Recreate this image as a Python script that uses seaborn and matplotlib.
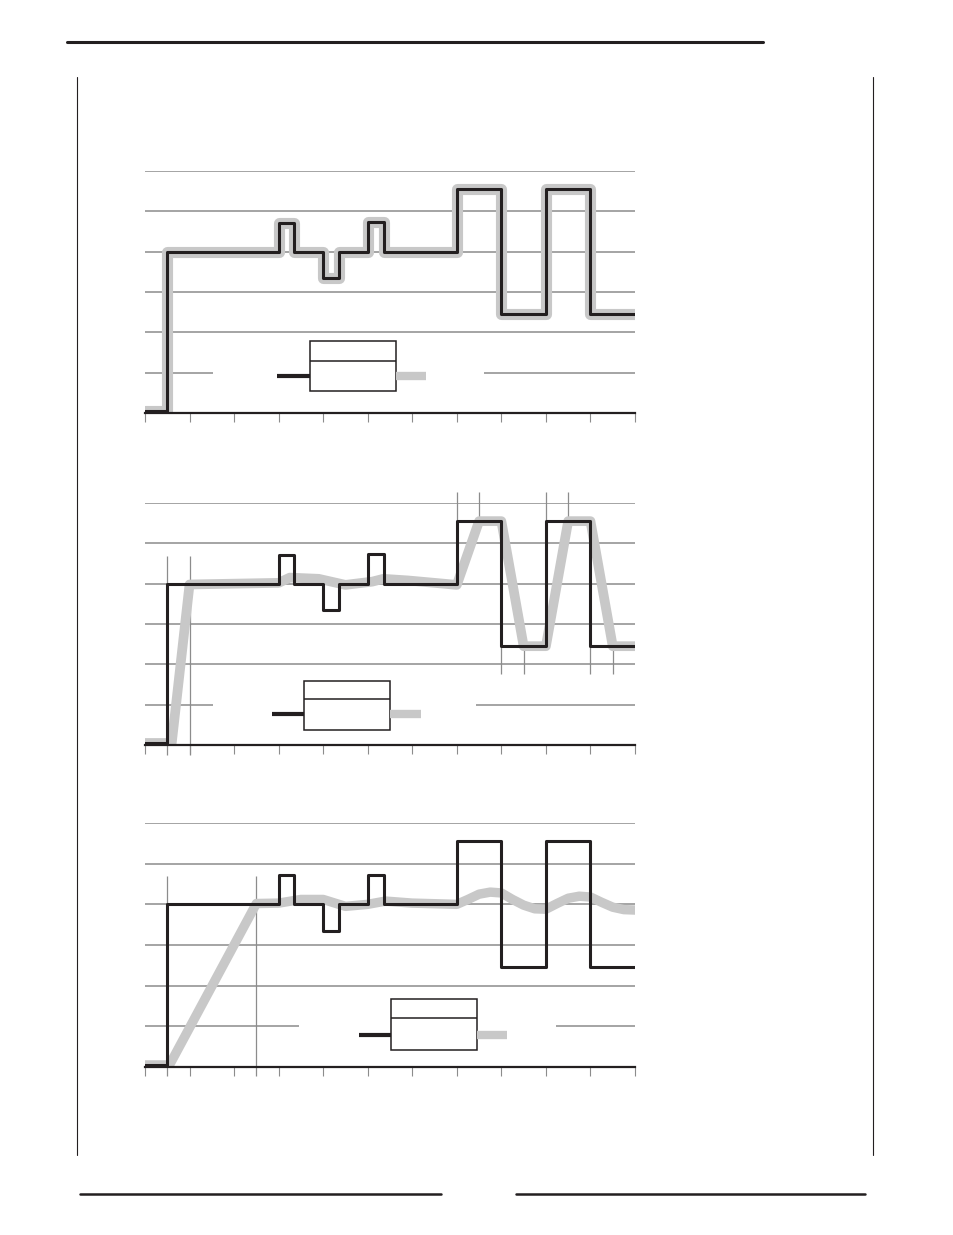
import matplotlib
matplotlib.use("Agg")
import matplotlib.pyplot as plt
from matplotlib.lines import Line2D
from matplotlib.patches import Rectangle
import seaborn as sns

sns.set_style("white")

# setpoint steps (same in all three charts)
step_t = [0, 0.5, 3.0, 3.35, 4.0, 4.35, 5.0, 5.37, 7.0, 8.0, 9.0, 10.0, 11.0]
step_v = [0.05, 4.0, 4.72, 4.0, 3.34, 4.0, 4.73, 4.0, 5.55, 2.45, 5.55, 2.45, 2.45]

# response, chart 2 (fast ramp)
resp2_t = [0, 0.6, 1.0, 3.0, 3.25, 3.9, 4.3, 4.5, 5.1, 5.35, 5.9, 7.0, 7.5, 8.0, 8.5, 9.0, 9.5, 10.0, 10.5, 11.0]
resp2_v = [0.05, 0.05, 3.98, 4.02, 4.15, 4.12, 4.02, 3.97, 4.05, 4.12, 4.08, 3.97,
           5.55, 5.55, 2.45, 2.45, 5.55, 5.55, 2.45, 2.45]

# response, chart 3 (slow ramp, filtered)
resp3_t = [0, 0.55, 2.5, 3.0, 3.5, 4.0, 4.5, 5.0, 5.4, 6.0, 7.0, 7.25, 7.5, 7.75, 8.0, 8.25,
           8.5, 8.75, 9.0, 9.25, 9.5, 9.75, 10.0, 10.25, 10.5, 10.75, 11.0]
resp3_v = [0.05, 0.05, 4.02, 4.03, 4.12, 4.12, 3.95, 4.0, 4.08, 4.03, 4.0, 4.12, 4.25, 4.3,
           4.28, 4.12, 3.98, 3.89, 3.88, 4.02, 4.15, 4.2, 4.18, 4.05, 3.93, 3.87, 3.86]

BLACK = "#231f20"
GRAY = "#c8c8c8"
GRID = "#8c8c8c"

fig = plt.figure(figsize=(9.54, 12.35), dpi=100)

# axes rects from pixel layout
rects = [
    (145 / 954, 1 - 413 / 1235, 490 / 954, 242 / 1235),
    (145 / 954, 1 - 745 / 1235, 490 / 954, 242 / 1235),
    (145 / 954, 1 - 1067 / 1235, 490 / 954, 244 / 1235),
]
# block boxes: x0, x1, y_bottom, y_top, divider, line y, input start, output end, grid gap
boxes = [
    (3.70, 5.63, 0.55, 1.79, 1.29, 0.92, 2.96, 6.31, (1.53, 7.61)),
    (3.57, 5.50, 0.37, 1.59, 1.14, 0.77, 2.85, 6.20, (1.53, 7.43)),
    (5.52, 7.45, 0.42, 1.68, 1.21, 0.79, 4.80, 8.13, (3.46, 9.23)),
]

for i, rect in enumerate(rects):
    ax = fig.add_axes(rect)
    ax.set_xlim(0, 11)
    ax.set_ylim(0, 6)
    x0, x1, yb, yt, ydiv, yl, xin, xout, gap = boxes[i]

    # grid lines
    ax.hlines([2, 3, 4, 5, 6], 0, 11, color=GRID, lw=1.1, zorder=1)
    ax.hlines([1, 1], [0, gap[1]], [gap[0], 11], color=GRID, lw=1.1, zorder=1)

    # marker lines
    if i == 1:
        ax.vlines([0.5, 1.0], -0.25, 4.69, color=GRID, lw=0.9, clip_on=False, zorder=1)
        ax.vlines([7.0, 7.5, 9.0, 9.5], 5.55, 6.27, color=GRID, lw=0.9, clip_on=False, zorder=1)
        ax.vlines([8.0, 8.5, 10.0, 10.5], 1.75, 2.45, color=GRID, lw=0.9, clip_on=False, zorder=1)
    if i == 2:
        ax.vlines([0.5, 2.5], -0.22, 4.7, color=GRID, lw=0.9, clip_on=False, zorder=1)

    # response (thick gray) then setpoint (black)
    if i == 0:
        sns.lineplot(x=step_t, y=step_v, ax=ax, color=GRAY, lw=8.0, drawstyle="steps-post",
                     estimator=None, sort=False, legend=False, zorder=2)
    elif i == 1:
        sns.lineplot(x=resp2_t, y=resp2_v, ax=ax, color=GRAY, lw=7.0,
                     estimator=None, sort=False, legend=False, zorder=2,
                     solid_joinstyle="round")
    else:
        sns.lineplot(x=resp3_t, y=resp3_v, ax=ax, color=GRAY, lw=6.8,
                     estimator=None, sort=False, legend=False, zorder=2,
                     solid_joinstyle="round")
    sns.lineplot(x=step_t, y=step_v, ax=ax, color=BLACK, lw=2.2, drawstyle="steps-post",
                 estimator=None, sort=False, legend=False, zorder=3)

    # block diagram box
    ax.add_patch(Rectangle((x0, yb), x1 - x0, yt - yb, fill=True, facecolor="white",
                           edgecolor=BLACK, lw=1.1, zorder=4))
    ax.hlines(ydiv, x0, x1, color=BLACK, lw=1.1, zorder=5)
    ax.hlines(yl, xin, x0, color=BLACK, lw=3.0, zorder=4)
    ax.hlines(yl, x1, xout, color=GRAY, lw=6.0, zorder=4)

    # axes styling
    for s in ["left", "top", "right"]:
        ax.spines[s].set_visible(False)
    ax.spines["bottom"].set_color(BLACK)
    ax.spines["bottom"].set_linewidth(1.6)
    ax.spines["bottom"].set_zorder(6)
    ax.set_xticks(range(12))
    ax.set_yticks([])
    ax.tick_params(axis="x", direction="out", length=6.5, width=0.8, color=GRID,
                   labelbottom=False, bottom=True)
    ax.set_xlabel("")
    ax.set_ylabel("")

# page rules
fig.add_artist(Line2D([67 / 954, 763 / 954], [1 - 42 / 1235] * 2, color=BLACK, lw=2.2))
fig.add_artist(Line2D([77 / 954] * 2, [1 - 77 / 1235, 1 - 1155 / 1235], color=BLACK, lw=0.8))
fig.add_artist(Line2D([873 / 954] * 2, [1 - 77 / 1235, 1 - 1155 / 1235], color=BLACK, lw=0.8))
fig.add_artist(Line2D([80 / 954, 441 / 954], [1 - 1194 / 1235] * 2, color=BLACK, lw=1.8))
fig.add_artist(Line2D([516 / 954, 865 / 954], [1 - 1194 / 1235] * 2, color=BLACK, lw=1.8))

fig.savefig("out.png", dpi=100)
